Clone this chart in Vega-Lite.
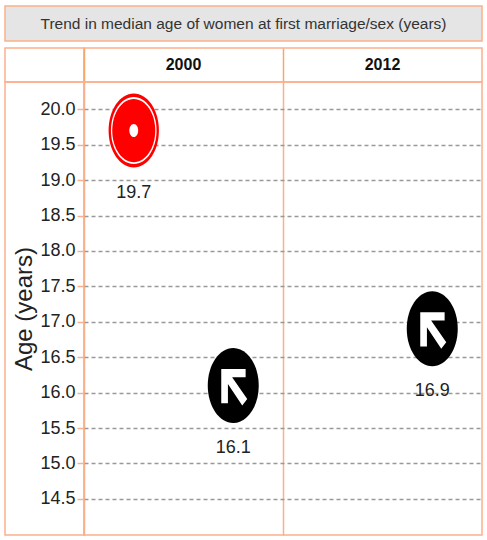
{
"$schema":"https://vega.github.io/schema/vega-lite/v6.json",
"padding":{"left":4,"top":5,"right":4,"bottom":4},
"background":"white",
"bounds":"flush",
"spacing":7,
"config":{"view":{"stroke":"#fbb08c","strokeWidth":1.5},"concat":{"spacing":0}},
"datasets":{"ages":[
{"year":"2000","series":"national","age":19.7},
{"year":"2000","series":"rising","age":16.1},
{"year":"2012","series":"rising","age":16.9}
],"years":[{"year":"2000"},{"year":"2012"}]},
"vconcat":[
{"width":477,"height":35,
 "view":{"fill":"#e5e5e5","stroke":"#fbb08c","strokeWidth":1.5},
 "data":{"values":[{"label":"Trend in median age of women at first marriage/sex (years)"}]},
 "mark":{"type":"text","font":"Liberation Sans","fontSize":15.5,"color":"#333333"},
 "encoding":{"text":{"field":"label"}}
},
{"bounds":"flush","spacing":0,"columns":2,"concat":[
  {"width":79,"height":34,"data":{"values":[{"label":" "}]},"view":{"stroke":"#fbb08c","strokeWidth":1.5},"mark":"text","encoding":{"text":{"field":"label"}}},
  {"width":398,"height":34,"data":{"name":"years"},
   "mark":{"type":"text","font":"Liberation Sans","fontSize":16,"fontWeight":"bold","color":"#111111"},
   "encoding":{
    "x":{"field":"year","type":"nominal","title":null,"scale":{"type":"band","paddingInner":0,"paddingOuter":0},
      "axis":{"bandPosition":0,"grid":true,"gridColor":"#f5a868","gridWidth":1.5,"labels":false,"ticks":false,"domain":false}},
    "text":{"field":"year"}}},
  {"width":79,"height":453,"data":{"values":[{"label":" "}]},"view":{"stroke":"#fbb08c","strokeWidth":1.5},"mark":"text","encoding":{"text":{"field":"label"}}},
  {"width":398,"height":453,"data":{"name":"ages"},
   "encoding":{
    "x":{"field":"year","type":"nominal","title":null,"scale":{"type":"band","domain":["2000","2012"],"paddingInner":0,"paddingOuter":0},
      "axis":{"bandPosition":0,"grid":true,"gridColor":"#fbb08c","gridWidth":1.5,"labels":false,"ticks":false,"domain":false}},
    "xOffset":{"field":"series","type":"nominal","scale":{"type":"band","domain":["national","rising"],"paddingInner":0,"paddingOuter":0}},
    "y":{"field":"age","type":"quantitative","title":"Age (years)",
      "scale":{"domain":[13.99,20.385],"nice":false,"zero":false},
      "axis":{"values":[14.5,15,15.5,16,16.5,17,17.5,18,18.5,19,19.5,20],"format":".1f","domain":false,
        "labelFont":"Liberation Sans","labelFontSize":18,"labelColor":"#222222","labelPadding":2,
        "tickColor":"#fbb08c","tickSize":7,"tickWidth":1.5,
        "grid":true,"gridColor":"#999999","gridDash":[4,3],"gridWidth":1.5,
        "titleFont":"Liberation Sans","titleFontSize":24,"titleFontWeight":"normal","titleColor":"#222222","titlePadding":3}}
   },
   "layer":[
    {"transform":[{"filter":"datum.series==='national'"}],"mark":{"type":"point","filled":true,"opacity":1,"color":"#ff0000","size":5476,"shape":"M-0.68,0A0.68,1 0 1,1 0.68,0A0.68,1 0 1,1 -0.68,0Z"}},
    {"transform":[{"filter":"datum.series==='national'"}],"mark":{"type":"point","filled":true,"opacity":1,"color":"#ffffff","size":4500,"shape":"M-0.68,0A0.68,1 0 1,1 0.68,0A0.68,1 0 1,1 -0.68,0Z"}},
    {"transform":[{"filter":"datum.series==='national'"}],"mark":{"type":"point","filled":true,"opacity":1,"color":"#ff0000","size":4000,"shape":"M-0.68,0A0.68,1 0 1,1 0.68,0A0.68,1 0 1,1 -0.68,0Z"}},
    {"transform":[{"filter":"datum.series==='national'"}],"mark":{"type":"point","filled":true,"opacity":1,"color":"#ffffff","size":170,"shape":"M-0.68,0A0.68,1 0 1,1 0.68,0A0.68,1 0 1,1 -0.68,0Z"}},
    {"transform":[{"filter":"datum.series==='rising'"}],"mark":{"type":"point","filled":true,"opacity":1,"color":"#000000","size":5625,"shape":"M-0.68,0A0.68,1 0 1,1 0.68,0A0.68,1 0 1,1 -0.68,0Z"}},
    {"transform":[{"filter":"datum.series==='rising'"}],"mark":{"type":"point","filled":true,"opacity":1,"color":"#ffffff","size":5625,"shape":"M-0.32,-0.444L0.33,-0.444L0.33,-0.222L-0.03,-0.222L0.373,0.356L0.24,0.533L-0.142,-0.044L-0.142,0.47L-0.32,0.47Z"}},
    {"mark":{"type":"text","font":"Liberation Sans","fontSize":18,"color":"#222222","dy":62},"encoding":{"text":{"field":"age","type":"quantitative","format":".1f"}}}
   ]}
]}
]}
